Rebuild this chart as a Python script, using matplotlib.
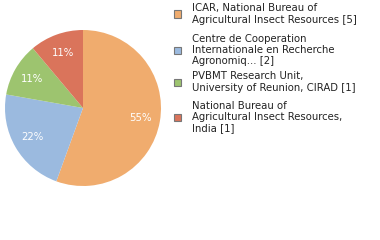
import matplotlib.pyplot as plt
from matplotlib.patches import Rectangle

labels = [
    "ICAR, National Bureau of\nAgricultural Insect Resources [5]",
    "Centre de Cooperation\nInternationale en Recherche\nAgronomiq... [2]",
    "PVBMT Research Unit,\nUniversity of Reunion, CIRAD [1]",
    "National Bureau of\nAgricultural Insect Resources,\nIndia [1]",
]
counts = [5, 2, 1, 1]
colors = ["#F0AC6E", "#9BBADF", "#9DC46F", "#DA745B"]
legend_y = [14, 50, 82, 117]  # pixel rows of legend markers

fig = plt.figure(figsize=(3.8, 2.4), dpi=100)
ax = fig.add_axes([5 / 380, 54 / 240, 156 / 380, 156 / 240])
wedges, texts, autotexts = ax.pie(
    counts, colors=colors, startangle=90, counterclock=False,
    autopct=lambda p: f"{int(p)}%", pctdistance=0.75,
    wedgeprops=dict(linewidth=0),
    textprops=dict(color="white", fontsize=7.3),
)
ax.set_xlim(-1, 1)
ax.set_ylim(-1, 1)
ax.set_aspect("equal")

for lab, c, y in zip(labels, colors, legend_y):
    fy = 1 - y / 240
    fig.patches.append(Rectangle((174 / 380, fy - 3.5 / 240), 7 / 380, 7 / 240,
                                 transform=fig.transFigure, facecolor=c,
                                 edgecolor="#777777", linewidth=0.8))
    fig.text(192 / 380, fy, lab, fontsize=7.3, color="#222222",
             va="center", ha="left", linespacing=1.15)

fig.savefig("out.png", dpi=100)
